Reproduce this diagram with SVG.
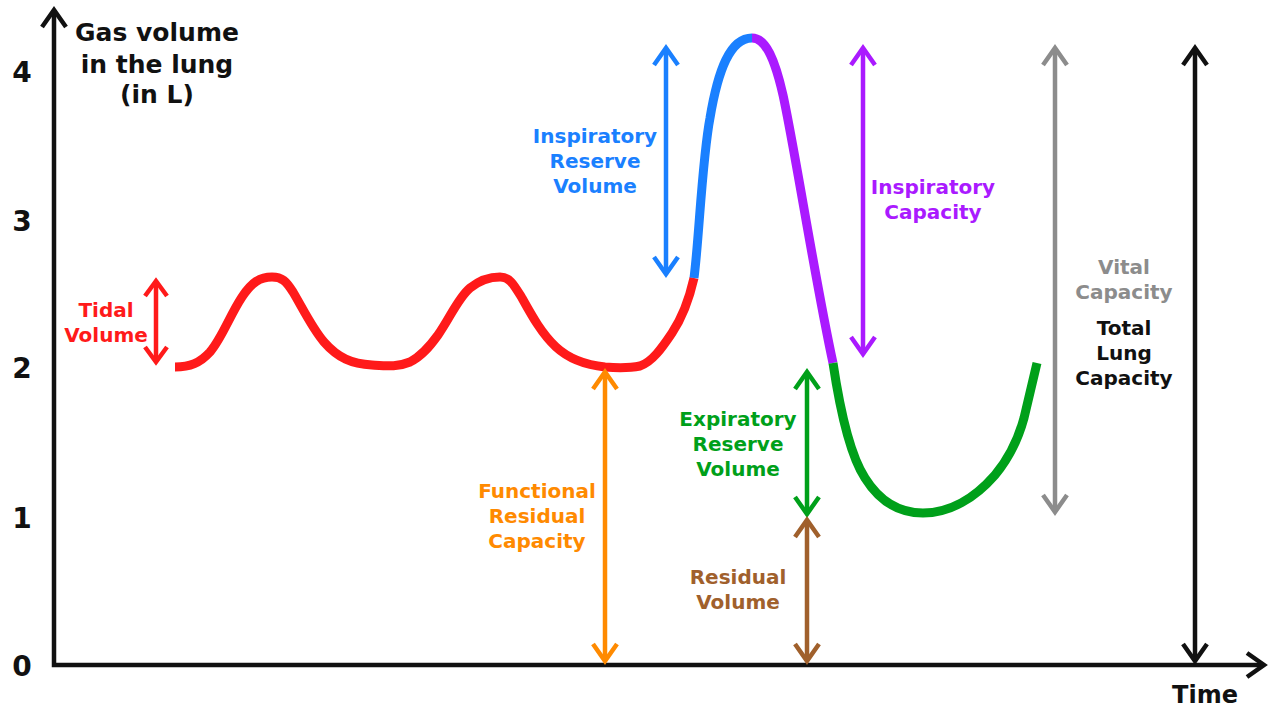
<svg xmlns="http://www.w3.org/2000/svg" width="1270" height="707" viewBox="0 0 1270 707">
<style>
text{font-family:"DejaVu Sans","Verdana",sans-serif;font-weight:bold;text-anchor:middle}
.lbl{font-size:20px}
.ax{fill:none;stroke:#111;stroke-width:4.5}
.arr{fill:none;stroke-width:4.5}
.curve{fill:none;stroke-width:9;stroke-linecap:butt;stroke-linejoin:round}
</style>
<defs>
<marker id="mk" markerUnits="userSpaceOnUse" overflow="visible" orient="auto-start-reverse" markerWidth="40" markerHeight="40"><path d="M-17,-12 L0,0 L-17,12" fill="none" stroke="#111" stroke-width="4.5"/></marker>
<marker id="mr" markerUnits="userSpaceOnUse" overflow="visible" orient="auto-start-reverse" markerWidth="40" markerHeight="40"><path d="M-15,-11 L0,0 L-15,11" fill="none" stroke="#ff1a1a" stroke-width="4.5"/></marker>
<marker id="mb" markerUnits="userSpaceOnUse" overflow="visible" orient="auto-start-reverse" markerWidth="40" markerHeight="40"><path d="M-17,-12 L0,0 L-17,12" fill="none" stroke="#1a80ff" stroke-width="4.5"/></marker>
<marker id="mp" markerUnits="userSpaceOnUse" overflow="visible" orient="auto-start-reverse" markerWidth="40" markerHeight="40"><path d="M-17,-12 L0,0 L-17,12" fill="none" stroke="#aa1aff" stroke-width="4.5"/></marker>
<marker id="mg" markerUnits="userSpaceOnUse" overflow="visible" orient="auto-start-reverse" markerWidth="40" markerHeight="40"><path d="M-17,-12 L0,0 L-17,12" fill="none" stroke="#8c8c8c" stroke-width="4.5"/></marker>
<marker id="mo" markerUnits="userSpaceOnUse" overflow="visible" orient="auto-start-reverse" markerWidth="40" markerHeight="40"><path d="M-17,-12 L0,0 L-17,12" fill="none" stroke="#ff8a00" stroke-width="4.5"/></marker>
<marker id="me" markerUnits="userSpaceOnUse" overflow="visible" orient="auto-start-reverse" markerWidth="40" markerHeight="40"><path d="M-17,-12 L0,0 L-17,12" fill="none" stroke="#00a01a" stroke-width="4.5"/></marker>
<marker id="mw" markerUnits="userSpaceOnUse" overflow="visible" orient="auto-start-reverse" markerWidth="40" markerHeight="40"><path d="M-17,-12 L0,0 L-17,12" fill="none" stroke="#a0602c" stroke-width="4.5"/></marker>
</defs>

<g id="axes">
<path class="ax" d="M54,10 L54,665 L1264,665" marker-start="url(#mk)" marker-end="url(#mk)"/>
<g style="font-size:28px" fill="#111">
<text x="22" y="82">4</text>
<text x="22" y="231">3</text>
<text x="22" y="378">2</text>
<text x="22" y="528">1</text>
<text x="22" y="676">0</text>
</g>
<text x="157" y="41" style="font-size:25px" fill="#111">Gas volume</text>
<text x="157" y="73" style="font-size:25px" fill="#111">in the lung</text>
<text x="157" y="103" style="font-size:25px" fill="#111">(in L)</text>
<text x="1205" y="703" style="font-size:24px" fill="#111">Time</text>
</g>

<g id="curve">
<path class="curve" stroke="#ff1a1a" d="M175,367 C190,367 200,363 210,352 C222,338 230,315 242,297 C252,282 260,277 272,277 C282,277 286,281 293,292 C302,307 312,328 324,342 C338,358 352,364 372,365 C388,366 398,367 410,362 C422,356 430,346 438,335 C450,318 458,298 470,288 C480,280 490,277 500,277 C510,277 514,285 522,298 C532,316 542,334 556,347 C570,360 586,365 605,367 C618,368 630,368 640,366 C652,362 662,348 672,333 C682,318 689,300 694,278"/>
<path class="curve" stroke="#1a80ff" d="M694,278 C699,240 702,160 710,118 C718,70 730,38 752,38"/>
<path class="curve" stroke="#aa1aff" d="M752,38 C766,38 775,60 783,95 C795,150 815,280 833,363"/>
<path class="curve" stroke="#00a01a" d="M833,363 C840,410 850,455 865,478 C880,502 900,513 923,513 C950,513 975,498 995,475 C1010,457 1018,440 1024,418 L1037,363"/>
</g>

<g id="connectors">
<path class="arr" stroke="#ff1a1a" d="M156,281 L156,362" marker-start="url(#mr)" marker-end="url(#mr)"/>
<path class="arr" stroke="#1a80ff" d="M666,48 L666,274" marker-start="url(#mb)" marker-end="url(#mb)"/>
<path class="arr" stroke="#aa1aff" d="M863,48 L863,354" marker-start="url(#mp)" marker-end="url(#mp)"/>
<path class="arr" stroke="#8c8c8c" d="M1055,48 L1055,512" marker-start="url(#mg)" marker-end="url(#mg)"/>
<path class="arr" stroke="#111" d="M1195,48 L1195,661" marker-start="url(#mk)" marker-end="url(#mk)"/>
<path class="arr" stroke="#ff8a00" d="M605,372 L605,661" marker-start="url(#mo)" marker-end="url(#mo)"/>
<path class="arr" stroke="#00a01a" d="M807,372 L807,514" marker-start="url(#me)" marker-end="url(#me)"/>
<path class="arr" stroke="#a0602c" d="M807,520 L807,661" marker-start="url(#mw)" marker-end="url(#mw)"/>
</g>

<g id="tidal-volume" fill="#ff1a1a">
<text x="106" y="317" class="lbl">Tidal</text>
<text x="106" y="342" class="lbl">Volume</text>
</g>
<g id="inspiratory-reserve-volume" fill="#1a80ff">
<text x="595" y="143" class="lbl">Inspiratory</text>
<text x="595" y="168" class="lbl">Reserve</text>
<text x="595" y="193" class="lbl">Volume</text>
</g>
<g id="inspiratory-capacity" fill="#aa1aff">
<text x="933" y="194" class="lbl">Inspiratory</text>
<text x="933" y="219" class="lbl">Capacity</text>
</g>
<g id="vital-capacity" fill="#8c8c8c">
<text x="1124" y="274" class="lbl">Vital</text>
<text x="1124" y="299" class="lbl">Capacity</text>
</g>
<g id="total-lung-capacity" fill="#111">
<text x="1124" y="335" class="lbl">Total</text>
<text x="1124" y="360" class="lbl">Lung</text>
<text x="1124" y="385" class="lbl">Capacity</text>
</g>
<g id="functional-residual-capacity" fill="#ff8a00">
<text x="537" y="498" class="lbl">Functional</text>
<text x="537" y="523" class="lbl">Residual</text>
<text x="537" y="548" class="lbl">Capacity</text>
</g>
<g id="expiratory-reserve-volume" fill="#00a01a">
<text x="738" y="426" class="lbl">Expiratory</text>
<text x="738" y="451" class="lbl">Reserve</text>
<text x="738" y="476" class="lbl">Volume</text>
</g>
<g id="residual-volume" fill="#a0602c">
<text x="738" y="584" class="lbl">Residual</text>
<text x="738" y="609" class="lbl">Volume</text>
</g>
</svg>
